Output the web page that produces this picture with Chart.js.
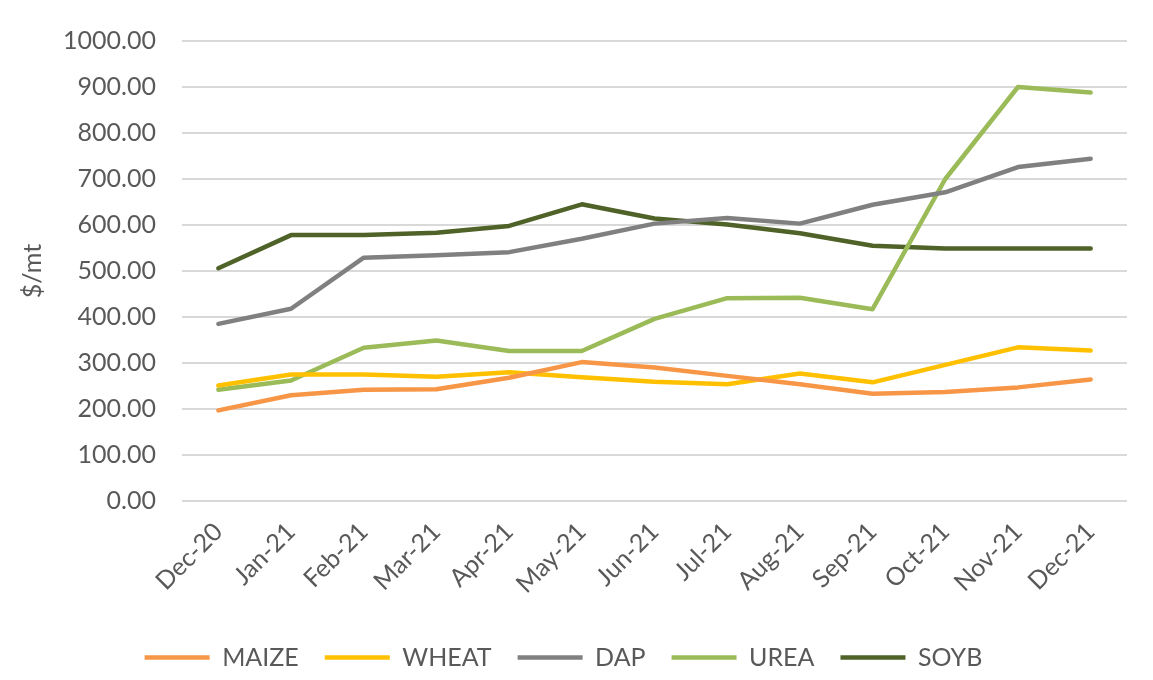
<!DOCTYPE html>
<html>
<head>
<meta charset="utf-8">
<script src="https://cdn.jsdelivr.net/npm/chart.js@4.4.1/dist/chart.umd.min.js"></script>
<style>
    html, body { margin: 0; padding: 0; background: #fff; }
    #wrap { width: 1153px; height: 680px; }
</style>
</head>
<body>
<div id="wrap"><canvas id="priceChart"></canvas></div>
<script>
"use strict";

const months = ["Dec-20", "Jan-21", "Feb-21", "Mar-21", "Apr-21", "May-21", "Jun-21",
    "Jul-21", "Aug-21", "Sep-21", "Oct-21", "Nov-21", "Dec-21"];
const maize = [197, 230, 242, 243, 268, 302, 290, 272, 254, 233, 237, 247, 264];
const wheat = [251, 275, 275, 270, 280, 269, 259, 254, 277, 258, 296, 334, 327];
const dap = [385, 418, 529, 534, 541, 570, 603, 615, 603, 644, 671, 726, 744];
const urea = [242, 262, 333, 349, 326, 326, 396, 441, 442, 417, 700, 900, 888];
const soyb = [506, 578, 578, 583, 598, 645, 614, 601, 582, 555, 549, 549, 549];
const yTicks = [0, 100, 200, 300, 400, 500, 600, 700, 800, 900, 1000];

(function() {
    const textColor = "#595959";
    const font = { family: "Lato", size: 25 };

    function series(label, data, color) {
        return {
            label: label,
            data: data,
            borderColor: color,
            backgroundColor: color,
            borderWidth: 4.5,
            borderCapStyle: "round",
            borderJoinStyle: "round",
            pointRadius: 0,
            pointHoverRadius: 0,
            tension: 0,
            fill: false,
        };
    }

    function Start() {
        let ctx = document.getElementById("priceChart").getContext("2d");
        new Chart(ctx, {
            type: "line",
            data: {
                labels: months,
                datasets: [
                    series("MAIZE", maize, "#F79646"),
                    series("WHEAT", wheat, "#FFC000"),
                    series("DAP", dap, "#808080"),
                    series("UREA", urea, "#9BBB59"),
                    series("SOYB", soyb, "#4F6228"),
                ],
            },
            options: {
                responsive: true,
                maintainAspectRatio: false,
                animation: false,
                layout: { padding: { top: 25, right: 26, left: 0, bottom: 0 } },
                plugins: {
                    tooltip: { enabled: false },
                    legend: {
                        position: "bottom",
                        labels: {
                            usePointStyle: true,
                            pointStyle: "line",
                            pointStyleWidth: 65,
                            boxHeight: 4,
                            padding: 26,
                            color: textColor,
                            font: font,
                        },
                    },
                },
                scales: {
                    x: {
                        offset: true,
                        grid: { display: false },
                        border: { display: false },
                        ticks: {
                            color: textColor,
                            font: font,
                            minRotation: 45,
                            maxRotation: 45,
                            padding: 8,
                        },
                        afterFit: function(scale) { scale.height = 118; },
                    },
                    y: {
                        min: 0,
                        max: 1000,
                        afterBuildTicks: function(scale) {
                            scale.ticks = yTicks.map(v => ({ value: v }));
                        },
                        grid: { color: "#d9d9d9", lineWidth: 2, drawTicks: false },
                        border: { display: false },
                        ticks: {
                            color: textColor,
                            font: font,
                            padding: 26,
                            callback: v => Number(v).toFixed(2),
                        },
                        title: {
                            display: true,
                            text: "$/mt",
                            color: textColor,
                            font: font,
                            padding: { top: 18, bottom: 0 },
                        },
                        afterFit: function(scale) { scale.width = 182; },
                    },
                },
            },
        });
    }

    window.addEventListener("load", Start);
})();
</script>
</body>
</html>
